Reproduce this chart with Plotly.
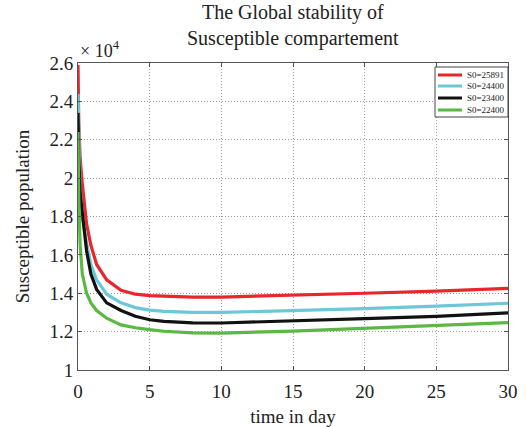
import plotly.graph_objects as go

t = [0, 0.05, 0.15, 0.3, 0.6, 0.9, 1.3, 2, 3, 4, 5, 6, 8, 10, 15, 20, 25, 30]
s_25891 = [25891, 23000, 21000, 19700, 17600, 16500, 15500, 14700, 14150, 13950, 13880, 13840, 13800, 13800, 13880, 14000, 14110, 14250]
s_24400 = [24400, 22000, 19500, 18000, 16600, 15500, 14700, 13950, 13500, 13250, 13120, 13060, 13000, 13000, 13080, 13200, 13330, 13480]
s_23400 = [23400, 21000, 19200, 18300, 16200, 15000, 14200, 13500, 13100, 12800, 12620, 12530, 12460, 12450, 12550, 12680, 12800, 12980]
s_22400 = [22400, 19000, 16500, 15000, 14000, 13500, 13100, 12700, 12350, 12200, 12100, 12020, 11930, 11920, 12030, 12180, 12300, 12470]

names = ["S0=25891", "S0=24400", "S0=23400", "S0=22400"]
series = [s_25891, s_24400, s_23400, s_22400]
colors = ["#e8262b", "#6cc8d8", "#111111", "#5bb844"]

y_ticks = [10000, 12000, 14000, 16000, 18000, 20000, 22000, 24000, 26000]
y_text = ["1", "1.2", "1.4", "1.6", "1.8", "2", "2.2", "2.4", "2.6"]
x_ticks = [0, 5, 10, 15, 20, 25, 30]

serif = "Liberation Serif"
txt = "#222"

fig = go.Figure()
for n, s, c in zip(names, series, colors):
    fig.add_trace(go.Scatter(x=t, y=s, mode="lines", name=n, showlegend=False,
                             line=dict(color=c, width=3.2)))

axis_common = dict(showline=True, linecolor="#555", linewidth=1, mirror="ticks",
                   showgrid=True, gridcolor="#999999", griddash="1px,2px", gridwidth=1,
                   ticks="inside", ticklen=4, tickcolor="#555", zeroline=False,
                   automargin=False,
                   tickfont=dict(family=serif, size=19, color=txt))

fig.update_layout(
    width=526, height=427,
    margin=dict(l=78, r=18, t=63, b=57),
    paper_bgcolor="white", plot_bgcolor="white",
    xaxis=dict(range=[0, 30], tickvals=x_ticks, ticklabelstandoff=4,
               title=dict(text="time in day", font=dict(family=serif, size=19, color=txt), standoff=8),
               **axis_common),
    yaxis=dict(range=[10000, 26000], tickvals=y_ticks, ticktext=y_text,
               title=dict(text="Susceptible population", font=dict(family=serif, size=19, color=txt), standoff=14),
               **axis_common),
    showlegend=False,
)

# title
fig.add_annotation(text="The Global stability of<br>Susceptible compartement",
                   xref="paper", yref="paper", x=0.5, y=(370 + 1) / 307, xanchor="center", yanchor="top",
                   showarrow=False, align="center",
                   font=dict(family=serif, size=20, color=txt))

# exponent label
fig.add_annotation(text="× 10<sup>4</sup>", xref="paper", yref="paper",
                   x=0.0, y=1.0, xanchor="left", yanchor="bottom", showarrow=False,
                   font=dict(family=serif, size=18, color=txt))

# legend box (drawn in paper coordinates)
def px(x):
    return (x - 78) / 430

def py(y):
    return (370 - y) / 307

fig.add_shape(type="rect", xref="paper", yref="paper",
              x0=px(435), x1=px(508), y0=py(117), y1=py(67),
              line=dict(color="#444", width=1), fillcolor="white", layer="above")
rows = [75, 86, 98, 110]
for n, c, r in zip(names, colors, rows):
    fig.add_shape(type="line", xref="paper", yref="paper",
                  x0=px(438), x1=px(462), y0=py(r), y1=py(r),
                  line=dict(color=c, width=3), layer="above")
    fig.add_annotation(text=n, xref="paper", yref="paper", x=px(465), y=py(r),
                       xanchor="left", yanchor="middle", showarrow=False,
                       font=dict(family=serif, size=9, color=txt))

fig.write_html("out.html")
